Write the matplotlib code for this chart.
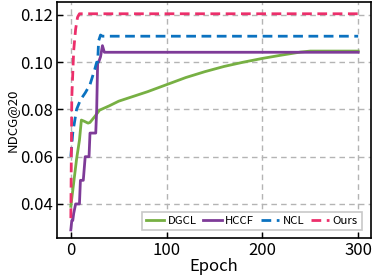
import matplotlib
matplotlib.use("Agg")
import matplotlib.pyplot as plt

#####################################################################################
plt.rcParams["font.family"] = ["Noto Sans CJK JP", "DejaVu Sans"]

# DGCL
dgcl_epoch = [0, 3, 6, 9, 11, 14, 18, 20, 25, 30, 40, 50, 65, 80, 100, 120,
              140, 160, 180, 200, 220, 240, 250, 260, 280, 300]
dgcl_ndcg = [0.039, 0.049, 0.059, 0.067, 0.0755, 0.075, 0.0742, 0.0745, 0.077,
             0.0797, 0.0815, 0.0835, 0.0855, 0.0875, 0.0905, 0.0935, 0.096,
             0.0982, 0.100, 0.1016, 0.103, 0.1043, 0.1047, 0.1047, 0.1047, 0.1047]

# HCCF
hccf_epoch = [0, 1, 2, 3, 5, 9, 10, 13, 15, 19, 20, 26, 27, 28, 29, 31, 33, 35, 300]
hccf_ndcg = [0.029, 0.033, 0.033, 0.036, 0.040, 0.040, 0.050, 0.050, 0.060,
             0.060, 0.070, 0.070, 0.080, 0.100, 0.100, 0.1023, 0.107, 0.1042, 0.1042]

# NCL
ncl_epoch = [0, 2, 6, 10, 15, 20, 25, 27, 28, 29, 31, 33, 300]
ncl_ndcg = [0.060, 0.070, 0.080, 0.084, 0.087, 0.0905, 0.097, 0.100, 0.100,
            0.109, 0.1115, 0.111, 0.111]

# Ours
ours_epoch = [0, 1, 3, 5, 7, 9, 300]
ours_ndcg = [0.034, 0.085, 0.105, 0.114, 0.119, 0.1205, 0.1205]

xticks = [0, 100, 200, 300]
yticks = [0.04, 0.06, 0.08, 0.10, 0.12]

#####################################################################################
fig = plt.figure(figsize=(3.74, 2.78), dpi=100)
ax = fig.add_axes([0.152, 0.144, 0.839, 0.849])

# ---------------------------------------------------------------------------
lw = 2.0
ax.plot(dgcl_epoch, dgcl_ndcg, color="#77b043", linewidth=lw, label="DGCL")
ax.plot(hccf_epoch, hccf_ndcg, color="#7e3b98", linewidth=lw, label="HCCF")
ax.plot(ncl_epoch, ncl_ndcg, color="#0b72c0", linewidth=lw,
        linestyle=(0, (3.5, 2)), label="NCL")
ax.plot(ours_epoch, ours_ndcg, color="#ec2f6b", linewidth=lw,
        linestyle=(0, (3.5, 2)), label="Ours")

# ---------------------------------------------------------------------------
ax.set_xlim(-14.6, 313)
ax.set_ylim(0.0256, 0.1255)
ax.set_xticks(xticks)
ax.set_yticks(yticks)
ax.set_yticklabels([f"{v:.2f}" for v in yticks])
ax.tick_params(direction="in", labelsize=12, length=4, width=1, pad=3)
ax.set_xlabel("Epoch", fontsize=12, labelpad=-1)
ax.set_ylabel("NDCG@20", fontsize=9.5, labelpad=1)

for s in ax.spines.values():
    s.set_linewidth(1.2)

ax.grid(True, color="#b4b4b4", linestyle=(0, (4, 3)), linewidth=1.0)

leg = ax.legend(loc="lower right", ncol=4, fontsize=8.2, handlelength=1.6,
                handletextpad=0.3, columnspacing=0.6, borderpad=0.35,
                fancybox=False, framealpha=1.0, edgecolor="#c8c8c8",
                bbox_to_anchor=(0.99, 0.01))
leg.get_frame().set_linewidth(1.2)

fig.savefig("out.png", dpi=100)
